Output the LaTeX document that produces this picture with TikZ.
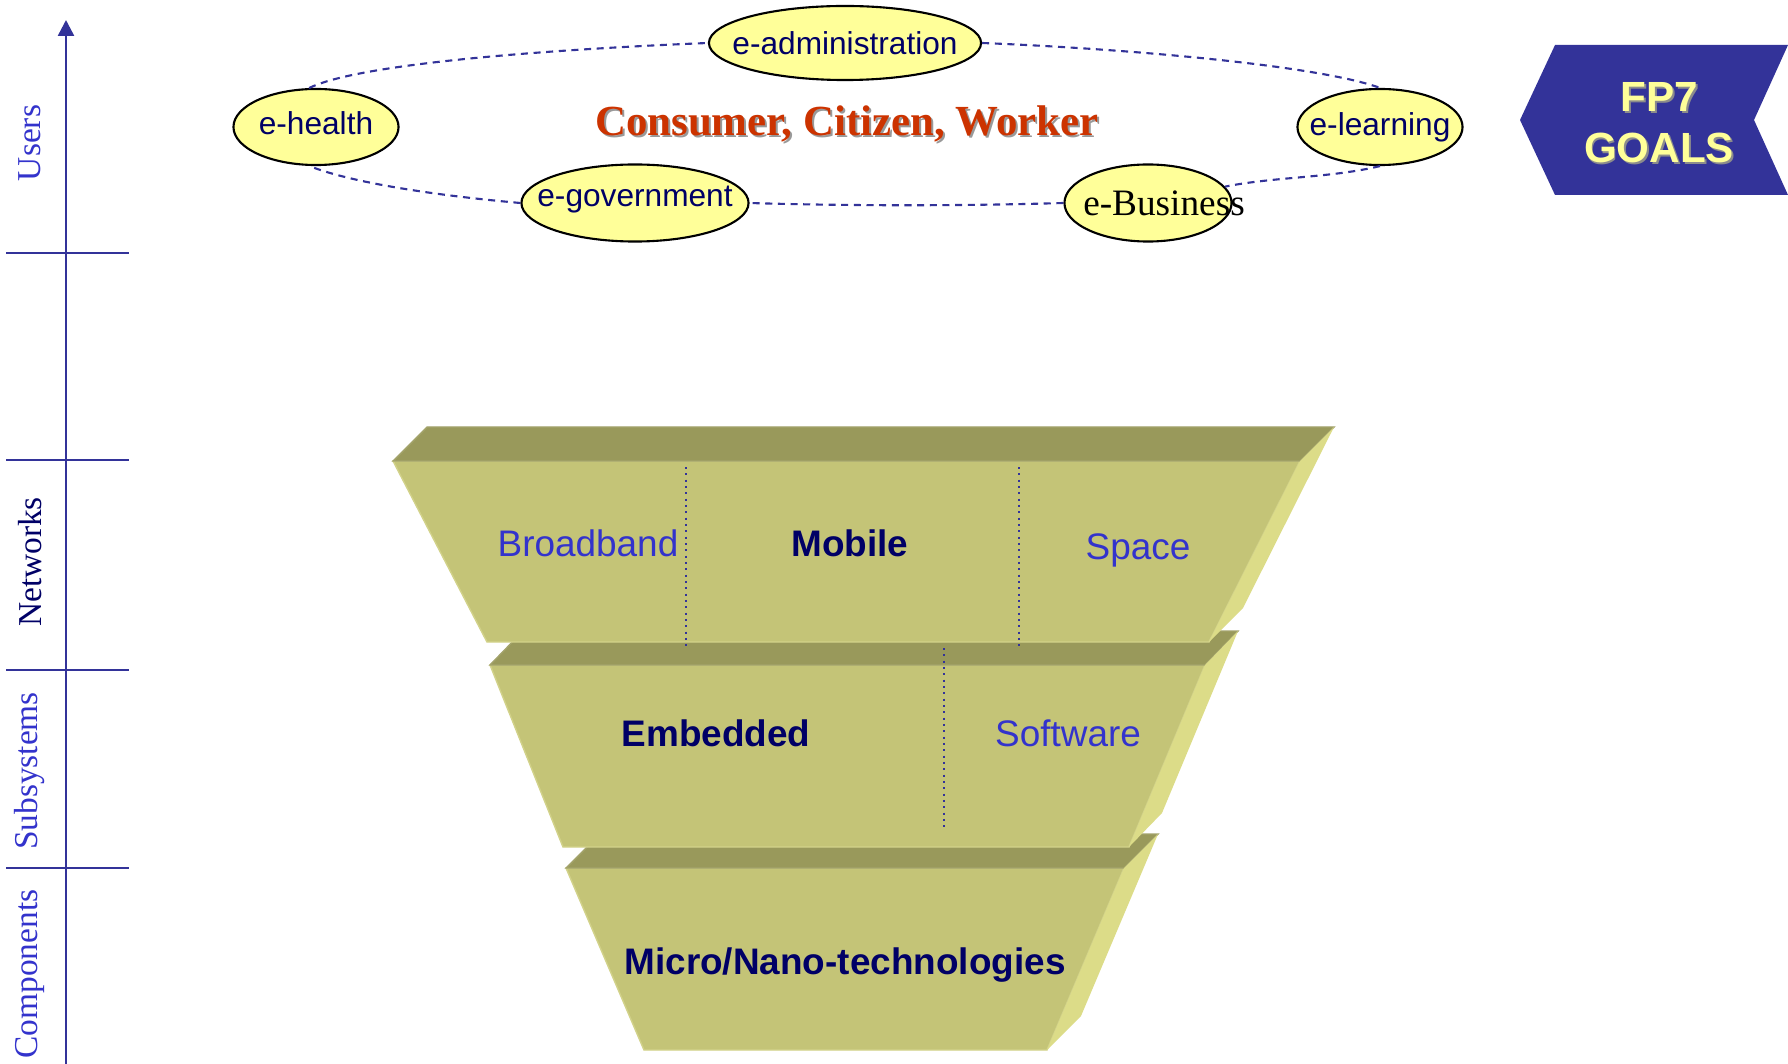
\documentclass[tikz,border=0pt]{standalone}
\usepackage{fontspec}
\setmainfont{Liberation Serif}
\setsansfont{Liberation Sans}
\usepackage{tikz}
\usetikzlibrary{shapes.geometric,arrows.meta,positioning}
\usepackage{xcolor}
\definecolor{mnavy}{HTML}{000066}
\definecolor{mblue}{HTML}{3333CC}
\definecolor{maxis}{HTML}{333399}
\definecolor{myellow}{HTML}{FFFF99}
\definecolor{mface}{HTML}{C4C477}
\definecolor{mtop}{HTML}{99995B}
\definecolor{mflank}{HTML}{DCDC88}
\definecolor{medge}{HTML}{D2D28A}
\definecolor{mred}{HTML}{CC3300}
\tikzstyle{bubble}=[ellipse, draw=black, fill=myellow, line width=0.6pt, inner sep=0pt]
\tikzstyle{btext}=[font=\sffamily\fontsize{9}{10}\selectfont, text=mnavy, inner sep=0pt]
\tikzstyle{ring}=[draw=maxis, line width=0.6pt, dash pattern=on 2pt off 1.6pt]
\tikzstyle{l1}=[line width=0.7pt, draw=maxis]
\tikzstyle{axlab}=[font=\fontsize{9.5}{10}\selectfont, text=mblue, rotate=90]
\tikzstyle{face}=[fill=mface, draw=medge, line width=0.4pt]
\tikzstyle{band}=[fill=mtop, draw=mtop!90!white, line width=0.4pt]
\tikzstyle{flank}=[fill=mflank]
\tikzstyle{lay}=[font=\sffamily\fontsize{10.5}{12}\selectfont, text=mblue]
\tikzstyle{layb}=[font=\sffamily\bfseries\fontsize{10.5}{12}\selectfont, text=mnavy]
\tikzstyle{divider}=[draw=maxis, line width=0.5pt, dash pattern=on 0.6pt off 1.2pt]
\tikzstyle{headline}=[font=\bfseries\fontsize{12.2}{14}\selectfont]
\tikzstyle{goal}=[font=\sffamily\bfseries\fontsize{12}{14}\selectfont]

\begin{document}
\begin{tikzpicture}[x=0.01cm,y=-0.01cm]
    \useasboundingbox (0,0) rectangle (1788,1064);

    % axis on the left
    \coordinate (axbot) at (66,1064);
    \coordinate (axtop) at (66,20);
    \draw[l1, -{Triangle[width=4.5pt,length=4.5pt]}] (axbot) -- (axtop);
    \draw[l1] (6,253) -- (129,253);
    \draw[l1] (6,460) -- (129,460);
    \draw[l1] (6,670) -- (129,670);
    \draw[l1] (6,868) -- (129,868);
    \node[axlab] (users) at (30,143) {Users};
    \node[axlab, text=mnavy] (networks) at (30,562) {Networks};
    \node[axlab] (subsys) at (30,771) {Subsystems};
    \node[axlab] (comps) at (30,974) {Components};

    % funnel, bottom layer first
    \fill[face] (566,868) -- (1124,868) -- (1047,1050) -- (644,1050) -- cycle;
    \fill[band] (566,868) -- (600,834) -- (1158,834) -- (1124,868) -- cycle;
    \fill[flank] (1124,868) -- (1158,834) -- (1081,1016) -- (1047,1050) -- cycle;

    \fill[face] (490,665) -- (1205,665) -- (1129,847) -- (563,847) -- cycle;
    \fill[band] (490,665) -- (523,631) -- (1238,631) -- (1205,665) -- cycle;
    \fill[flank] (1205,665) -- (1238,631) -- (1162,813) -- (1129,847) -- cycle;

    \fill[face] (393,461) -- (1300,461) -- (1209,642) -- (487,642) -- cycle;
    \fill[band] (393,461) -- (427,427) -- (1334,427) -- (1300,461) -- cycle;
    \fill[flank] (1300,461) -- (1334,427) -- (1243,608) -- (1209,642) -- cycle;

    \draw[divider] (686,467) -- (686,650);
    \draw[divider] (1019,467) -- (1019,650);
    \draw[divider] (944,648) -- (944,831);

    \node[lay] (broad) at (588,543) {Broadband};
    \node[layb] (mobile) at (850,543) {Mobile};
    \node[lay] (space) at (1138,550) {Space};
    \node[layb] (embed) at (716,733) {Embedded};
    \node[lay] (soft) at (1068,733) {Software};
    \node[layb] (micro) at (845,965) {Micro/Nano-technologies};

    % users ring
    \node[bubble, minimum width=2.72cm, minimum height=0.74cm, label={[btext]center:e-administration}] (admin) at (845,43) {};
    \node[bubble, minimum width=1.65cm, minimum height=0.76cm, label={[btext, yshift=1pt]center:e-health}] (health) at (316,127) {};
    \node[bubble, minimum width=1.65cm, minimum height=0.76cm, label={[btext]center:e-learning}] (learning) at (1380,127) {};
    \node[bubble, minimum width=2.27cm, minimum height=0.77cm, label={[btext, yshift=1pt]center:e-government}] (gov) at (635,203) {};
    \node[bubble, minimum width=1.67cm, minimum height=0.77cm, label={[font=\fontsize{10.6}{12}\selectfont, xshift=16*0.01cm, inner sep=0pt]center:e-Business}] (bus) at (1148,203) {};

    \draw[ring] (health.100) .. controls +(50,-25) and +(-150,6) .. (admin.west);
    \draw[ring] (admin.east) .. controls +(150,6) and +(-60,-22) .. (learning.north);
    \draw[ring] (learning.south) .. controls +(-50,12) and +(50,-10) .. (bus.12);
    \draw[ring] (bus.west) .. controls +(-100,3) and +(100,3) .. (gov.east);
    \draw[ring] (gov.west) .. controls +(-90,-8) and +(40,16) .. (health.-100);

    \node[headline, text=black!40] at (849,126) {Consumer, Citizen, Worker};
    \node[headline, text=mred] (who) at (847,124) {Consumer, Citizen, Worker};

    % goals tag
    \fill[maxis] (1520,120) -- (1555,45) -- (1788,45) -- (1754,120) -- (1788,195) -- (1555,195) -- cycle;
    \node[goal, text=black!45] at (1661,99) {FP7};
    \node[goal, text=myellow] (fp7) at (1659,97) {FP7};
    \node[goal, text=black!45] at (1661,150) {GOALS};
    \node[goal, text=myellow] (goals) at (1659,148) {GOALS};
\end{tikzpicture}
\end{document}
